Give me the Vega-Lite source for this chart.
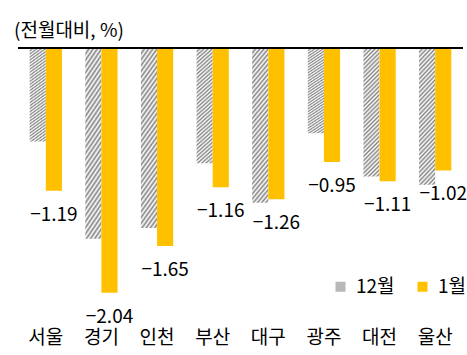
{
  "$schema": "https://vega.github.io/schema/vega-lite/v6.json",
  "width": 445,
  "height": 274,
  "autosize": {"type": "none"},
  "padding": {"left": 18, "top": 48, "right": 4, "bottom": 33},
  "background": "white",
  "title": {"text": "(전월대비, %)", "anchor": "start", "fontSize": 19, "fontWeight": "normal", "font": "Noto Sans CJK KR", "color": "#000000", "dx": -3, "offset": 6},
  "config": {"view": {"stroke": null}, "font": "Noto Sans CJK KR"},
  "data": {"values": [
    {"region": "서울", "month": "12월", "value": -0.78},
    {"region": "서울", "month": "1월", "value": -1.19},
    {"region": "경기", "month": "12월", "value": -1.59},
    {"region": "경기", "month": "1월", "value": -2.04},
    {"region": "인천", "month": "12월", "value": -1.50},
    {"region": "인천", "month": "1월", "value": -1.65},
    {"region": "부산", "month": "12월", "value": -0.96},
    {"region": "부산", "month": "1월", "value": -1.16},
    {"region": "대구", "month": "12월", "value": -1.29},
    {"region": "대구", "month": "1월", "value": -1.26},
    {"region": "광주", "month": "12월", "value": -0.71},
    {"region": "광주", "month": "1월", "value": -0.95},
    {"region": "대전", "month": "12월", "value": -1.07},
    {"region": "대전", "month": "1월", "value": -1.11},
    {"region": "울산", "month": "12월", "value": -1.14},
    {"region": "울산", "month": "1월", "value": -1.02}
  ]},
  "layer": [
    {
      "mark": {"type": "bar", "strokeWidth": 0},
      "encoding": {
        "x": {"field": "region", "type": "nominal", "sort": ["서울", "경기", "인천", "부산", "대구", "광주", "대전", "울산"], "scale": {"paddingInner": 0.42, "paddingOuter": 0.21}, "axis": {"title": null, "domain": false, "ticks": false, "labelAngle": 0, "labelFontSize": 19, "labelColor": "#000000", "labelPadding": 6, "labelFont": "Noto Sans CJK KR"}},
        "xOffset": {"field": "month", "type": "nominal", "sort": ["12월", "1월"]},
        "y": {"field": "value", "type": "quantitative", "scale": {"domain": [-2.283, 0], "nice": false, "zero": false}, "axis": null},
        "color": {
          "condition": {"test": "datum.month === '12월'", "value": {"gradient": "linear", "x1": 0, "y1": 0, "x2": 1, "y2": 8, "stops": [
            {"offset": 0, "color": "#858585"}, {"offset": 0.002, "color": "#ffffff"},
            {"offset": 0.004, "color": "#858585"}, {"offset": 0.006, "color": "#ffffff"},
            {"offset": 0.008, "color": "#858585"}, {"offset": 0.01, "color": "#ffffff"},
            {"offset": 0.012, "color": "#858585"}, {"offset": 0.014, "color": "#ffffff"},
            {"offset": 0.016, "color": "#858585"}, {"offset": 0.018, "color": "#ffffff"},
            {"offset": 0.02, "color": "#858585"}, {"offset": 0.022, "color": "#ffffff"},
            {"offset": 0.024, "color": "#858585"}, {"offset": 0.026, "color": "#ffffff"},
            {"offset": 0.028, "color": "#858585"}, {"offset": 0.03, "color": "#ffffff"},
            {"offset": 0.032, "color": "#858585"}, {"offset": 0.034, "color": "#ffffff"},
            {"offset": 0.036, "color": "#858585"}, {"offset": 0.038, "color": "#ffffff"},
            {"offset": 0.04, "color": "#858585"}, {"offset": 0.042, "color": "#ffffff"},
            {"offset": 0.044, "color": "#858585"}, {"offset": 0.046, "color": "#ffffff"},
            {"offset": 0.048, "color": "#858585"}, {"offset": 0.05, "color": "#ffffff"},
            {"offset": 0.052, "color": "#858585"}, {"offset": 0.054, "color": "#ffffff"},
            {"offset": 0.056, "color": "#858585"}, {"offset": 0.058, "color": "#ffffff"},
            {"offset": 0.06, "color": "#858585"}, {"offset": 0.062, "color": "#ffffff"},
            {"offset": 0.064, "color": "#858585"}, {"offset": 0.066, "color": "#ffffff"},
            {"offset": 0.068, "color": "#858585"}, {"offset": 0.07, "color": "#ffffff"},
            {"offset": 0.072, "color": "#858585"}, {"offset": 0.074, "color": "#ffffff"},
            {"offset": 0.076, "color": "#858585"}, {"offset": 0.078, "color": "#ffffff"},
            {"offset": 0.08, "color": "#858585"}, {"offset": 0.082, "color": "#ffffff"},
            {"offset": 0.084, "color": "#858585"}, {"offset": 0.086, "color": "#ffffff"},
            {"offset": 0.088, "color": "#858585"}, {"offset": 0.09, "color": "#ffffff"},
            {"offset": 0.092, "color": "#858585"}, {"offset": 0.094, "color": "#ffffff"},
            {"offset": 0.096, "color": "#858585"}, {"offset": 0.098, "color": "#ffffff"},
            {"offset": 0.1, "color": "#858585"}, {"offset": 0.102, "color": "#ffffff"},
            {"offset": 0.104, "color": "#858585"}, {"offset": 0.106, "color": "#ffffff"},
            {"offset": 0.108, "color": "#858585"}, {"offset": 0.11, "color": "#ffffff"},
            {"offset": 0.112, "color": "#858585"}, {"offset": 0.114, "color": "#ffffff"},
            {"offset": 0.116, "color": "#858585"}, {"offset": 0.118, "color": "#ffffff"},
            {"offset": 0.12, "color": "#858585"}, {"offset": 0.122, "color": "#ffffff"},
            {"offset": 0.124, "color": "#858585"}, {"offset": 0.126, "color": "#ffffff"},
            {"offset": 0.128, "color": "#858585"}, {"offset": 0.13, "color": "#ffffff"},
            {"offset": 0.132, "color": "#858585"}, {"offset": 0.134, "color": "#ffffff"},
            {"offset": 0.136, "color": "#858585"}, {"offset": 0.138, "color": "#ffffff"},
            {"offset": 0.14, "color": "#858585"}
          ]}},
          "field": "month", "type": "nominal", "sort": ["12월", "1월"],
          "scale": {"domain": ["12월", "1월"], "range": ["#b8b8b8", "#FFC000"]},
          "legend": {"title": null, "orient": "none", "legendX": 313, "legendY": 229, "direction": "horizontal", "padding": 0, "symbolType": "square", "symbolSize": 100, "symbolStrokeWidth": 0, "symbolOpacity": 1, "labelFontSize": 19, "labelColor": "#000000", "labelFont": "Noto Sans CJK KR", "labelOffset": 6, "columnPadding": 18}
        }
      }
    },
    {
      "transform": [{"filter": "datum.month === '1월'"}],
      "mark": {"type": "text", "dy": 24, "fontSize": 19, "color": "#000000", "font": "Noto Sans CJK KR"},
      "encoding": {
        "x": {"field": "region", "type": "nominal", "sort": ["서울", "경기", "인천", "부산", "대구", "광주", "대전", "울산"]},
        "xOffset": {"field": "month", "type": "nominal", "sort": ["12월", "1월"]},
        "y": {"field": "value", "type": "quantitative"},
        "text": {"field": "value", "type": "quantitative", "format": ".2f"}
      }
    },
    {
      "mark": {"type": "rule", "color": "#000000", "strokeWidth": 2},
      "encoding": {"y": {"datum": 0}}
    }
  ]
}
